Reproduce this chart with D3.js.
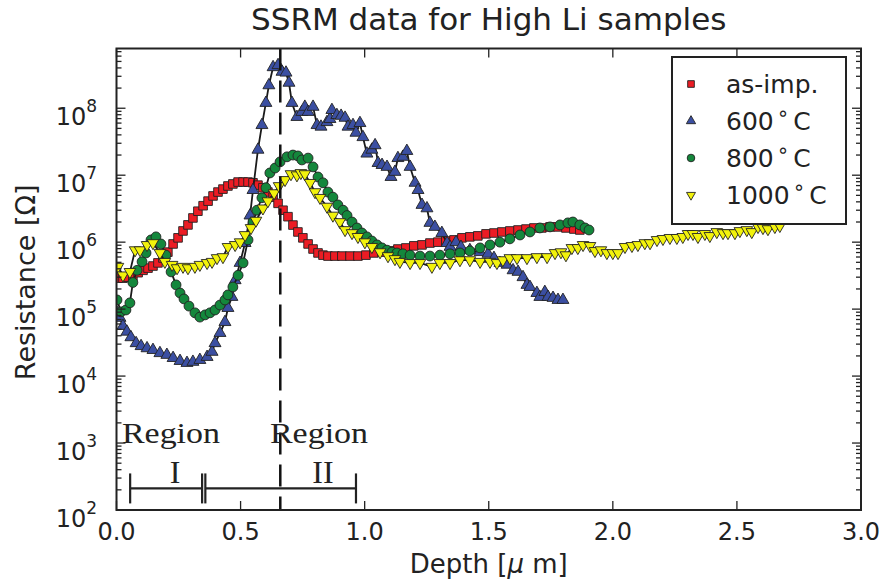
<!DOCTYPE html>
<html>
<head>
<meta charset="utf-8">
<script src="https://cdn.jsdelivr.net/npm/d3@7"></script>
<style>
  body { margin: 0; background: #fff; }
  text { font-family: "DejaVu Sans", sans-serif; fill: #222; }
</style>
</head>
<body>
<div id="chart"></div>
<script>
// values: [depth (um), resistance (ohm)]
const asImp = [[0.006,2.9e5],[0.026,2.9e5],[0.046,3.0e5],[0.066,3.1e5],[0.087,3.5e5],[0.107,3.8e5],[0.127,4.1e5],[0.147,4.4e5],[0.167,4.9e5],[0.187,5.8e5],[0.207,7.1e5],[0.228,9.4e5],[0.248,1.16e6],[0.268,1.47e6],[0.288,1.81e6],[0.308,2.3e6],[0.328,2.9e6],[0.349,3.5e6],[0.369,4.1e6],[0.389,4.9e6],[0.409,5.6e6],[0.429,6.2e6],[0.449,6.9e6],[0.469,7.4e6],[0.490,7.9e6],[0.510,7.9e6],[0.530,7.9e6],[0.550,7.7e6],[0.570,7.1e6],[0.590,6.5e6],[0.610,5.6e6],[0.631,4.7e6],[0.651,3.8e6],[0.671,3.0e6],[0.691,2.4e6],[0.711,1.8e6],[0.731,1.42e6],[0.751,1.16e6],[0.772,9.4e5],[0.792,7.9e5],[0.812,6.9e5],[0.832,6.4e5],[0.852,6.2e5],[0.880,6.2e5],[0.908,6.2e5],[0.941,6.2e5],[0.973,6.2e5],[1.005,6.4e5],[1.037,6.9e5],[1.070,7.1e5],[1.102,7.4e5],[1.134,7.9e5],[1.166,8.2e5],[1.198,8.8e5],[1.231,9.1e5],[1.263,9.7e5],[1.295,1.0e6],[1.327,1.04e6],[1.360,1.08e6],[1.392,1.16e6],[1.424,1.2e6],[1.456,1.24e6],[1.489,1.33e6],[1.521,1.37e6],[1.553,1.42e6],[1.585,1.47e6],[1.618,1.52e6],[1.650,1.57e6],[1.682,1.63e6],[1.714,1.63e6],[1.747,1.69e6],[1.779,1.69e6],[1.811,1.63e6],[1.843,1.57e6],[1.867,1.52e6]];

const t600 = [[0.002,8.8e4],[0.014,7.4e4],[0.026,5.6e4],[0.042,4.6e4],[0.058,3.8e4],[0.079,3.1e4],[0.099,2.8e4],[0.123,2.6e4],[0.147,2.45e4],[0.175,2.2e4],[0.203,2.07e4],[0.228,1.86e4],[0.256,1.68e4],[0.284,1.57e4],[0.308,1.63e4],[0.336,1.74e4],[0.365,1.93e4],[0.385,2.3e4],[0.397,3.1e4],[0.417,4.4e4],[0.437,6.4e4],[0.449,1.04e5],[0.465,1.52e5],[0.478,2.7e5],[0.498,4.9e5],[0.518,9.7e5],[0.538,2.5e6],[0.550,6.0e6],[0.570,2.4e7],[0.586,5.6e7],[0.602,1.2e8],[0.614,2.2e8],[0.631,4.1e8],[0.651,4.4e8],[0.667,3.5e8],[0.683,3.4e8],[0.695,2.4e8],[0.707,1.2e8],[0.727,7.4e7],[0.747,8.8e7],[0.759,1.05e8],[0.772,8.8e7],[0.792,1.05e8],[0.808,5.6e7],[0.824,5.3e7],[0.848,6.2e7],[0.860,6.9e7],[0.868,9.4e7],[0.888,7.9e7],[0.905,7.7e7],[0.921,7.2e7],[0.933,5.3e7],[0.953,5.6e7],[0.965,4.3e7],[0.981,6.0e7],[0.993,3.7e7],[1.009,2.1e7],[1.029,2.4e7],[1.042,2.8e7],[1.054,1.52e7],[1.070,1.42e7],[1.090,1.33e7],[1.106,9.4e6],[1.122,1.12e7],[1.134,1.8e7],[1.154,1.88e7],[1.170,2.3e7],[1.183,1.33e7],[1.203,7.7e6],[1.215,6.0e6],[1.231,3.6e6],[1.251,3.2e6],[1.263,1.94e6],[1.283,1.69e6],[1.311,1.37e6],[1.332,9.7e5],[1.344,8.5e5],[1.368,1.0e6],[1.388,8.5e5],[1.424,7.6e5],[1.465,7.1e5],[1.497,6.7e5],[1.521,5.8e5],[1.545,4.9e5],[1.574,4.6e5],[1.598,3.8e5],[1.618,3.6e5],[1.638,3.0e5],[1.654,2.3e5],[1.666,2.14e5],[1.694,1.74e5],[1.706,1.52e5],[1.726,1.8e5],[1.739,1.52e5],[1.759,1.47e5],[1.779,1.37e5],[1.799,1.37e5]];

const t800 = [[0.002,1.37e5],[0.018,9.1e4],[0.038,9.7e4],[0.054,1.24e5],[0.066,2.5e5],[0.083,3.8e5],[0.103,5.1e5],[0.119,6.9e5],[0.139,1.08e6],[0.159,1.2e6],[0.179,9.4e5],[0.199,6.4e5],[0.220,3.6e5],[0.240,2.3e5],[0.256,1.74e5],[0.272,1.42e5],[0.292,1.11e5],[0.316,8.8e4],[0.336,7.6e4],[0.357,8.2e4],[0.377,8.8e4],[0.397,9.7e4],[0.417,1.15e5],[0.437,1.37e5],[0.449,1.63e5],[0.469,2.14e5],[0.490,3.2e5],[0.510,4.9e5],[0.530,1.08e6],[0.550,2.0e6],[0.566,3.0e6],[0.586,4.6e6],[0.602,6.5e6],[0.618,1.08e7],[0.639,1.28e7],[0.659,1.58e7],[0.687,1.88e7],[0.711,2.0e7],[0.731,1.94e7],[0.747,1.69e7],[0.772,1.8e7],[0.792,1.33e7],[0.812,9.4e6],[0.832,7.7e6],[0.852,5.6e6],[0.872,4.7e6],[0.892,3.6e6],[0.913,3.0e6],[0.929,2.5e6],[0.949,2.0e6],[0.969,1.63e6],[0.989,1.37e6],[1.009,1.2e6],[1.029,1.04e6],[1.050,9.1e5],[1.070,8.2e5],[1.090,7.6e5],[1.110,7.1e5],[1.130,6.9e5],[1.154,6.7e5],[1.183,6.4e5],[1.223,6.2e5],[1.263,6.2e5],[1.303,6.4e5],[1.344,6.7e5],[1.384,6.9e5],[1.424,7.4e5],[1.465,8.2e5],[1.505,9.1e5],[1.545,1.0e6],[1.585,1.12e6],[1.626,1.28e6],[1.666,1.42e6],[1.706,1.63e6],[1.747,1.69e6],[1.787,1.81e6],[1.819,1.94e6],[1.839,2.0e6],[1.867,1.81e6],[1.888,1.63e6],[1.904,1.52e6]];

const t1000 = [[0.006,4.3e5],[0.026,3.2e5],[0.054,3.6e5],[0.075,7.6e5],[0.095,7.6e5],[0.123,9.1e5],[0.147,9.7e5],[0.175,6.9e5],[0.195,5.1e5],[0.224,4.6e5],[0.244,4.1e5],[0.268,4.3e5],[0.288,4.1e5],[0.316,4.3e5],[0.336,4.6e5],[0.365,4.9e5],[0.385,5.1e5],[0.405,5.8e5],[0.429,6.0e5],[0.449,8.5e5],[0.478,9.1e5],[0.498,1.0e6],[0.518,1.28e6],[0.542,1.63e6],[0.562,2.1e6],[0.590,3.2e6],[0.610,4.1e6],[0.635,5.4e6],[0.655,6.9e6],[0.679,8.5e6],[0.703,1.04e7],[0.727,1.0e7],[0.743,1.08e7],[0.759,1.04e7],[0.780,7.7e6],[0.800,5.6e6],[0.820,4.6e6],[0.848,3.4e6],[0.872,2.5e6],[0.900,2.0e6],[0.921,1.52e6],[0.949,1.37e6],[0.973,1.2e6],[1.001,1.0e6],[1.029,8.5e5],[1.062,7.1e5],[1.094,6.2e5],[1.122,5.6e5],[1.142,5.1e5],[1.183,4.9e5],[1.223,4.9e5],[1.271,4.3e5],[1.303,4.9e5],[1.344,4.9e5],[1.384,5.4e5],[1.424,5.4e5],[1.465,5.1e5],[1.505,5.1e5],[1.533,4.9e5],[1.557,5.4e5],[1.585,5.8e5],[1.614,5.8e5],[1.654,5.8e5],[1.694,6.0e5],[1.735,6.0e5],[1.767,6.9e5],[1.791,7.1e5],[1.811,6.4e5],[1.835,8.2e5],[1.859,8.2e5],[1.880,9.1e5],[1.908,8.8e5],[1.928,7.4e5],[1.952,7.6e5],[1.976,6.9e5],[2.000,6.9e5],[2.021,6.9e5],[2.049,8.5e5],[2.077,8.8e5],[2.101,9.1e5],[2.129,9.7e5],[2.150,9.7e5],[2.178,1.08e6],[2.202,1.12e6],[2.230,1.16e6],[2.258,1.16e6],[2.282,1.2e6],[2.303,1.33e6],[2.323,1.33e6],[2.343,1.2e6],[2.371,1.33e6],[2.391,1.24e6],[2.419,1.42e6],[2.444,1.37e6],[2.464,1.37e6],[2.492,1.37e6],[2.512,1.47e6],[2.540,1.52e6],[2.560,1.42e6],[2.585,1.69e6],[2.605,1.63e6],[2.625,1.57e6],[2.653,1.69e6],[2.673,1.75e6]];

const seriesNames = ["as-imp.", "600", "800", "1000"];
const xTicks = [0, 0.5, 1.0, 1.5, 2.0, 2.5, 3.0];
const yDecades = [2, 3, 4, 5, 6, 7, 8];
const interfaceDepth = 0.66;
const regionI = [0.055, 0.345];
const regionII = [0.358, 0.965];

const margin = {top: 48.5, right: 25, bottom: 74, left: 116.5};
const W = 886, H = 584;
const width = W - margin.left - margin.right;
const height = H - margin.top - margin.bottom;

const svg = d3.select("#chart").append("svg")
    .attr("width", W)
    .attr("height", H);

const g = svg.append("g")
    .attr("transform", `translate(${margin.left},${margin.top})`);

const x = d3.scaleLinear().domain([0, 3]).range([0, width]);
const y = d3.scaleLog().domain([1e2, 7.8e8]).range([height, 0]);

svg.append("defs").append("clipPath").attr("id", "clip")
    .append("rect").attr("width", width).attr("height", height);

const series = [
    {name: seriesNames[0], data: asImp, shape: d3.symbolSquare, size: 74, rot: 0, fill: "#ec1c24"},
    {name: seriesNames[1], data: t600, shape: d3.symbolTriangle, size: 62, rot: 0, fill: "#3b4fa2"},
    {name: seriesNames[2], data: t800, shape: d3.symbolCircle, size: 76, rot: 0, fill: "#14873c"},
    {name: seriesNames[3], data: t1000, shape: d3.symbolTriangle, size: 58, rot: 180, fill: "#f2f20c"}
];

const plot = g.append("g").attr("clip-path", "url(#clip)");

const line = d3.line().x(d => x(d[0])).y(d => y(d[1]));

series.forEach(s => {
    plot.append("path")
        .datum(s.data)
        .attr("d", line)
        .attr("fill", "none")
        .attr("stroke", "#1a1a1a")
        .attr("stroke-width", 1.8);

    plot.selectAll(null)
        .data(s.data)
        .enter()
        .append("path")
        .attr("d", d3.symbol(s.shape, s.size))
        .attr("transform", d => `translate(${x(d[0])},${y(d[1])}) rotate(${s.rot})`)
        .attr("fill", s.fill)
        .attr("stroke", "#222")
        .attr("stroke-width", 0.9);
});

// vertical dashed line
g.append("line")
    .attr("x1", x(interfaceDepth)).attr("x2", x(interfaceDepth))
    .attr("y1", 0).attr("y2", height)
    .attr("stroke", "#111")
    .attr("stroke-width", 2.5)
    .attr("stroke-dasharray", "22,10");

// region brackets
const by = y(210);
[regionI, regionII].forEach(r => {
    g.append("line")
        .attr("x1", x(r[0])).attr("x2", x(r[1]))
        .attr("y1", by).attr("y2", by)
        .attr("stroke", "#222").attr("stroke-width", 2.2);
    r.forEach(v => {
        g.append("line")
            .attr("x1", x(v)).attr("x2", x(v))
            .attr("y1", by - 15).attr("y2", by + 15)
            .attr("stroke", "#222").attr("stroke-width", 2.2);
    });
});

const serif = "'Liberation Serif', 'DejaVu Serif', serif";
[[0.2195, "I", 0.236], [0.816, "II", 0.832]].forEach(r => {
    g.append("text")
        .attr("x", x(r[0])).attr("y", y(1000))
        .attr("text-anchor", "middle")
        .attr("textLength", 98).attr("lengthAdjust", "spacingAndGlyphs")
        .style("font-family", serif).style("font-size", "30px")
        .text("Region");
    g.append("text")
        .attr("x", x(r[2])).attr("y", y(253))
        .attr("text-anchor", "middle")
        .style("font-family", serif).style("font-size", "32px")
        .text(r[1]);
});

// axes ticks (inside, on all four sides)
const tickColor = "#222";
const minor = [];
yDecades.forEach(d => {
    for (let k = 2; k <= 9; k++) {
        const v = k * Math.pow(10, d);
        if (v <= y.domain()[1]) minor.push(v);
    }
});
const majorY = yDecades.map(d => Math.pow(10, d));

const ticks = g.append("g").attr("stroke", tickColor).attr("stroke-width", 1.3);
majorY.forEach(v => {
    ticks.append("line").attr("x1", 0).attr("x2", 9).attr("y1", y(v)).attr("y2", y(v));
    ticks.append("line").attr("x1", width).attr("x2", width - 9).attr("y1", y(v)).attr("y2", y(v));
});
minor.forEach(v => {
    ticks.append("line").attr("x1", 0).attr("x2", 5).attr("y1", y(v)).attr("y2", y(v));
    ticks.append("line").attr("x1", width).attr("x2", width - 5).attr("y1", y(v)).attr("y2", y(v));
});
xTicks.forEach(v => {
    ticks.append("line").attr("x1", x(v)).attr("x2", x(v)).attr("y1", height).attr("y2", height - 9);
    ticks.append("line").attr("x1", x(v)).attr("x2", x(v)).attr("y1", 0).attr("y2", 9);
});

// frame
g.append("rect")
    .attr("width", width).attr("height", height)
    .attr("fill", "none").attr("stroke", "#222").attr("stroke-width", 2);

// tick labels
g.selectAll(".xlab")
    .data(xTicks)
    .enter().append("text")
    .attr("x", d => x(d)).attr("y", height + 30)
    .attr("text-anchor", "middle")
    .style("font-size", "24px")
    .text(d => d3.format(".1f")(d));

yDecades.forEach(d => {
    const t = g.append("text")
        .attr("x", -19.5).attr("y", y(Math.pow(10, d)) + 17)
        .attr("text-anchor", "end")
        .style("font-size", "24px");
    t.append("tspan").text("10");
    t.append("tspan").attr("dy", -13).style("font-size", "17px").text(d);
});

// titles
svg.append("text")
    .attr("x", margin.left + width / 2).attr("y", 30)
    .attr("text-anchor", "middle")
    .style("font-size", "31px")
    .text("SSRM data for High Li samples");

const xl = svg.append("text")
    .attr("x", margin.left + width / 2).attr("y", 573)
    .attr("text-anchor", "middle")
    .style("font-size", "26px");
xl.append("tspan").text("Depth [");
xl.append("tspan").style("font-style", "italic").text("\u03bc");
xl.append("tspan").text(" m]");

svg.append("text")
    .attr("transform", `translate(35,${margin.top + height / 2 + 3}) rotate(-90)`)
    .attr("text-anchor", "middle")
    .style("font-size", "27px")
    .text("Resistance [\u03a9]");

// legend
const lg = svg.append("g").attr("transform", "translate(672,57)");
lg.append("rect")
    .attr("width", 174).attr("height", 167)
    .attr("fill", "#fff").attr("stroke", "#222").attr("stroke-width", 2);
series.forEach((s, i) => {
    const ly = 27 + i * 37;
    lg.append("path")
        .attr("d", d3.symbol(s.shape, s.size * 0.6))
        .attr("transform", `translate(19,${ly}) rotate(${s.rot})`)
        .attr("fill", s.fill).attr("stroke", "#222").attr("stroke-width", 0.9);
    const t = lg.append("text")
        .attr("x", 54).attr("y", ly + 9)
        .style("font-size", "25px");
    t.append("tspan").text(s.name);
    if (i > 0) {
        t.append("tspan").attr("dx", 3).attr("dy", -10).style("font-size", "20px").text("\u2218");
        t.append("tspan").attr("dx", 4).attr("dy", 10).text("C");
    }
});
</script>
</body>
</html>
